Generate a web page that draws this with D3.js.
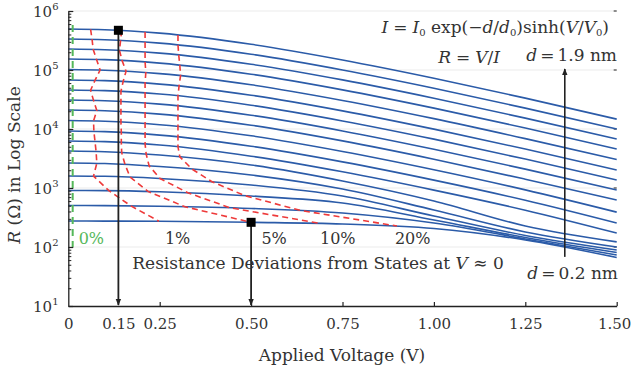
<!DOCTYPE html>
<html><head><meta charset="utf-8">
<script src="https://cdn.jsdelivr.net/npm/d3@7"></script>
<style>
body{margin:0;background:#fff}
text{font-family:"DejaVu Serif",serif;fill:#333}
</style></head>
<body><svg id="c" width="632" height="370"></svg>
<script>
// ---------- data ----------
const voltages = [0, 0.1, 0.25, 0.5, 0.75, 1.0, 1.25, 1.5];
const thickness = [1.9,1.8,1.7,1.6,1.5,1.4,1.3,1.2,1.1,1.0,0.9,0.8,0.7,0.6,0.5,0.4,0.3,0.2];
const R_d19 = [495000,482000,421000,273000,148000,72600,33400,14700];
const R_d18 = [335000,326000,285000,185000,100000,49100,22600,9970];
const R_d17 = [227000,221000,193000,125000,68000,33300,15300,6750];
const R_d16 = [154000,150000,131000,84900,46100,22600,10400,4580];
const R_d15 = [102000,99300,86800,56200,30500,15000,6870,3030];
const R_d14 = [67800,66000,57700,37400,20300,9940,4570,2020];
const R_d13 = [45900,44700,39100,25300,13700,6730,3090,1370];
const R_d12 = [31000,30200,26400,17100,9280,4540,2090,922];
const R_d11 = [21000,20400,17900,11600,6290,3080,1410,625];
const R_d10 = [13900,13500,11800,7660,4160,2040,930,390];
const R_d09 = [9250,9010,7870,5100,2770,1360,620,255];
const R_d08 = [6270,6100,5340,3460,1880,920,420,172];
const R_d07 = [4240,4120,3620,2455,1315,603,227,122];
const R_d06 = [2660,2603,2313,1660,961,424,180,100];
const R_d05 = [1600,1578,1449,1124,731,335,157,88.9];
const R_d04 = [908,904,863,732,557,287,145,80.7];
const R_d03 = [505,503,490,450,377,255,137,73.1];
const R_d02 = [276,275,273,262,246,206,131.6,66.4];
const resistanceSeries = [R_d19,R_d18,R_d17,R_d16,R_d15,R_d14,R_d13,R_d12,R_d11,R_d10,R_d09,R_d08,R_d07,R_d06,R_d05,R_d04,R_d03,R_d02];

// voltage at which each curve (top to bottom) deviates by the given amount
const dev1V  = [0.061,0.065,0.068,0.077,0.087,0.073,0.061,0.069,0.078,0.069,0.070,0.073,0.076,0.078,0.069,0.111,0.171,0.248];
const dev5V  = [0.146,0.143,0.140,0.147,0.158,0.150,0.144,0.144,0.144,0.144,0.145,0.145,0.146,0.155,0.169,0.218,0.319,0.500];
const dev10V = [0.210,0.210,0.210,0.210,0.212,0.210,0.210,0.210,0.210,0.210,0.210,0.210,0.213,0.221,0.251,0.327,0.442,0.688];
const dev20V = [0.300,0.300,0.302,0.305,0.307,0.303,0.300,0.300,0.300,0.300,0.300,0.300,0.305,0.338,0.393,0.483,0.634,0.899];
const zeroLineV = 0.012, zeroLineR = [580000, 100];
const devLabels = ["0%","1%","5%","10%","20%"];
const devLabelV = [0.063, 0.299, 0.563, 0.737, 0.942];

const markerTop = {V:0.137, curve:0};
const markerBottom = {V:0.5, curve:17};
const dArrowV = 1.358, dArrowR = [68, 104000];

const xTickValues = [0, 0.137, 0.25, 0.5, 0.75, 1.0, 1.25, 1.5];
const xTickLabels = ["0","0.15","0.25","0.50","0.75","1.00","1.25","1.50"];
const yTickValues = [1e1,1e2,1e3,1e4,1e5,1e6];
const yTickExp = ["1","2","3","4","5","6"];

// ---------- chart ----------
const svg = d3.select("#c");
const x = d3.scaleLinear().domain([0,1.5]).range([68.3,616.7]);
const y = d3.scaleLog().domain([10,1e6]).range([306,11]);
const blue="#2b5ba8", red="#ee3a3a", green="#55b85a", ink="#222";

// grid
svg.append("g").selectAll("line").data(yTickValues.slice(1)).join("line")
  .attr("x1",x(0)).attr("x2",x(1.5)).attr("y1",d=>y(d)).attr("y2",d=>y(d))
  .attr("stroke","#ebebeb").attr("stroke-width",1);
svg.append("g").selectAll("line").data(yTickValues.slice(1)).join("line")
  .attr("x1",x(1.5)-3).attr("x2",x(1.5)).attr("y1",d=>y(d)).attr("y2",d=>y(d))
  .attr("stroke",ink).attr("stroke-width",1);

// curves
const line = d3.line().x((d,i)=>x(voltages[i])).y(d=>y(d)).curve(d3.curveMonotoneX);
const paths = svg.append("g").selectAll("path").data(resistanceSeries).join("path")
  .attr("d",line).attr("fill","none").attr("stroke",blue).attr("stroke-width",1.6);
const nodes = paths.nodes();
function yAt(ci, v){
  const p = nodes[ci], L = p.getTotalLength(), px = x(v);
  let lo=0, hi=L;
  for(let k=0;k<40;k++){const m=(lo+hi)/2; if(p.getPointAtLength(m).x<px) lo=m; else hi=m;}
  return p.getPointAtLength((lo+hi)/2).y;
}

// deviation contours
const cl = d3.line().x(d=>d[0]).y(d=>d[1]);
[dev1V,dev5V,dev10V,dev20V].forEach(arr=>{
  const pts = arr.map((v,i)=>[x(v), yAt(i,v)]);
  svg.append("path").attr("d",cl(pts)).attr("fill","none").attr("stroke",red)
    .attr("stroke-width",1.6).attr("stroke-dasharray","6,4");
});
svg.append("line").attr("x1",x(zeroLineV)).attr("x2",x(zeroLineV))
  .attr("y1",y(zeroLineR[0])).attr("y2",y(zeroLineR[1]))
  .attr("stroke",green).attr("stroke-width",2).attr("stroke-dasharray","7,5");

// axes
const xAxis = d3.axisBottom(x).tickValues(xTickValues).tickFormat((d,i)=>xTickLabels[i])
  .tickSizeInner(-4).tickSizeOuter(0).tickPadding(12);
const gx = svg.append("g").attr("transform","translate(0,306)").call(xAxis);
gx.select(".domain").attr("stroke",ink).attr("stroke-width",1.3);
gx.selectAll(".tick line").attr("stroke",ink).attr("stroke-width",1.2)
  .filter(d=>d<0.2).remove();
gx.selectAll("text").attr("font-family","DejaVu Serif").attr("font-size",15).attr("fill","#333")
  .attr("dx",d=>d===1.5?-2.5:0);

const yAxis = d3.axisLeft(y).tickValues(yTickValues).tickFormat(()=>"").tickSizeInner(-5).tickSizeOuter(0);
const gy = svg.append("g").attr("transform","translate(68.3,0)").call(yAxis);
gy.select(".domain").attr("stroke",ink).attr("stroke-width",1.3);
gy.selectAll(".tick line").attr("stroke",ink).attr("stroke-width",1.2);
const minor=[]; yTickValues.slice(0,-1).forEach(b=>{for(let m=2;m<10;m++)minor.push(b*m);});
const gm = svg.append("g").attr("transform","translate(68.3,0)")
  .call(d3.axisLeft(y).tickValues(minor).tickFormat(()=>"").tickSizeInner(-3).tickSizeOuter(0));
gm.select(".domain").remove();
gm.selectAll(".tick line").attr("stroke",ink).attr("stroke-width",1);
const yl = svg.append("g").selectAll("text").data(yTickValues).join("text")
  .attr("x",58.5).attr("y",d=>y(d)+5.5).attr("text-anchor","end").attr("font-size",15);
yl.append("tspan").text("10");
yl.append("tspan").text((d,i)=>yTickExp[i]).attr("font-size",10).attr("dy",-7);

// markers + arrows
const defs = svg.append("defs");
defs.append("marker").attr("id","ah").attr("viewBox","0 0 10 10").attr("refX",9).attr("refY",5)
  .attr("markerWidth",7).attr("markerHeight",7).attr("markerUnits","userSpaceOnUse").attr("orient","auto")
  .append("path").attr("d","M0,1 L10,5 L0,9 Z").attr("fill",ink);
[markerTop, markerBottom].forEach(m=>{
  const yy = yAt(m.curve, m.V);
  svg.append("line").attr("x1",x(m.V)).attr("x2",x(m.V)).attr("y1",yy).attr("y2",305)
    .attr("stroke",ink).attr("stroke-width",1.8).attr("marker-end","url(#ah)");
  svg.append("rect").attr("x",x(m.V)-4.5).attr("y",yy-4.5).attr("width",9).attr("height",9).attr("fill","#000");
});
svg.append("line").attr("x1",x(dArrowV)).attr("x2",x(dArrowV)).attr("y1",y(dArrowR[0])).attr("y2",y(dArrowR[1]))
  .attr("stroke",ink).attr("stroke-width",1.6).attr("marker-end","url(#ah)");

// text
const F=17;
svg.append("text").attr("x",617).attr("y",61).attr("text-anchor","end").attr("font-size",F)
  .html('<tspan font-style="italic">d</tspan><tspan dx="3">=</tspan><tspan dx="3">1.9 nm</tspan>');
svg.append("text").attr("x",618).attr("y",279).attr("text-anchor","end").attr("font-size",F)
  .html('<tspan font-style="italic">d</tspan><tspan dx="3">=</tspan><tspan dx="3">0.2 nm</tspan>');
svg.append("text").attr("x",500).attr("y",63).attr("text-anchor","end").attr("font-size",F)
  .html('<tspan font-style="italic">R</tspan><tspan dx="5">=</tspan><tspan dx="5" font-style="italic">V</tspan>/<tspan font-style="italic">I</tspan>');
svg.append("text").attr("x",609).attr("y",33).attr("text-anchor","end").attr("font-size",F)
  .html('<tspan font-style="italic">I</tspan><tspan dx="5">=</tspan><tspan dx="5" font-style="italic">I</tspan><tspan font-size="10" dy="3">0</tspan><tspan dy="-3"> exp(−</tspan><tspan font-style="italic">d</tspan>/<tspan font-style="italic">d</tspan><tspan font-size="10" dy="3">0</tspan><tspan dy="-3">)sinh(</tspan><tspan font-style="italic">V</tspan>/<tspan font-style="italic">V</tspan><tspan font-size="10" dy="3">0</tspan><tspan dy="-3">)</tspan>');
svg.append("text").attr("x",318).attr("y",269).attr("text-anchor","middle").attr("font-size",F)
  .html('Resistance Deviations from States at <tspan font-style="italic">V</tspan> ≈ 0');
svg.append("g").selectAll("text").data(devLabels).join("text")
  .attr("x",(d,i)=>x(devLabelV[i])).attr("y",244).attr("text-anchor","middle").attr("font-size",16)
  .style("fill",(d,i)=>i===0?green:"#333").text(d=>d);
svg.append("text").attr("x",342).attr("y",361).attr("text-anchor","middle").attr("font-size",F).text("Applied Voltage (V)");
svg.append("text").attr("transform","translate(20,165) rotate(-90)").attr("text-anchor","middle").attr("font-size",F)
  .html('<tspan font-style="italic">R</tspan> (Ω) in Log Scale');
</script></body></html>
